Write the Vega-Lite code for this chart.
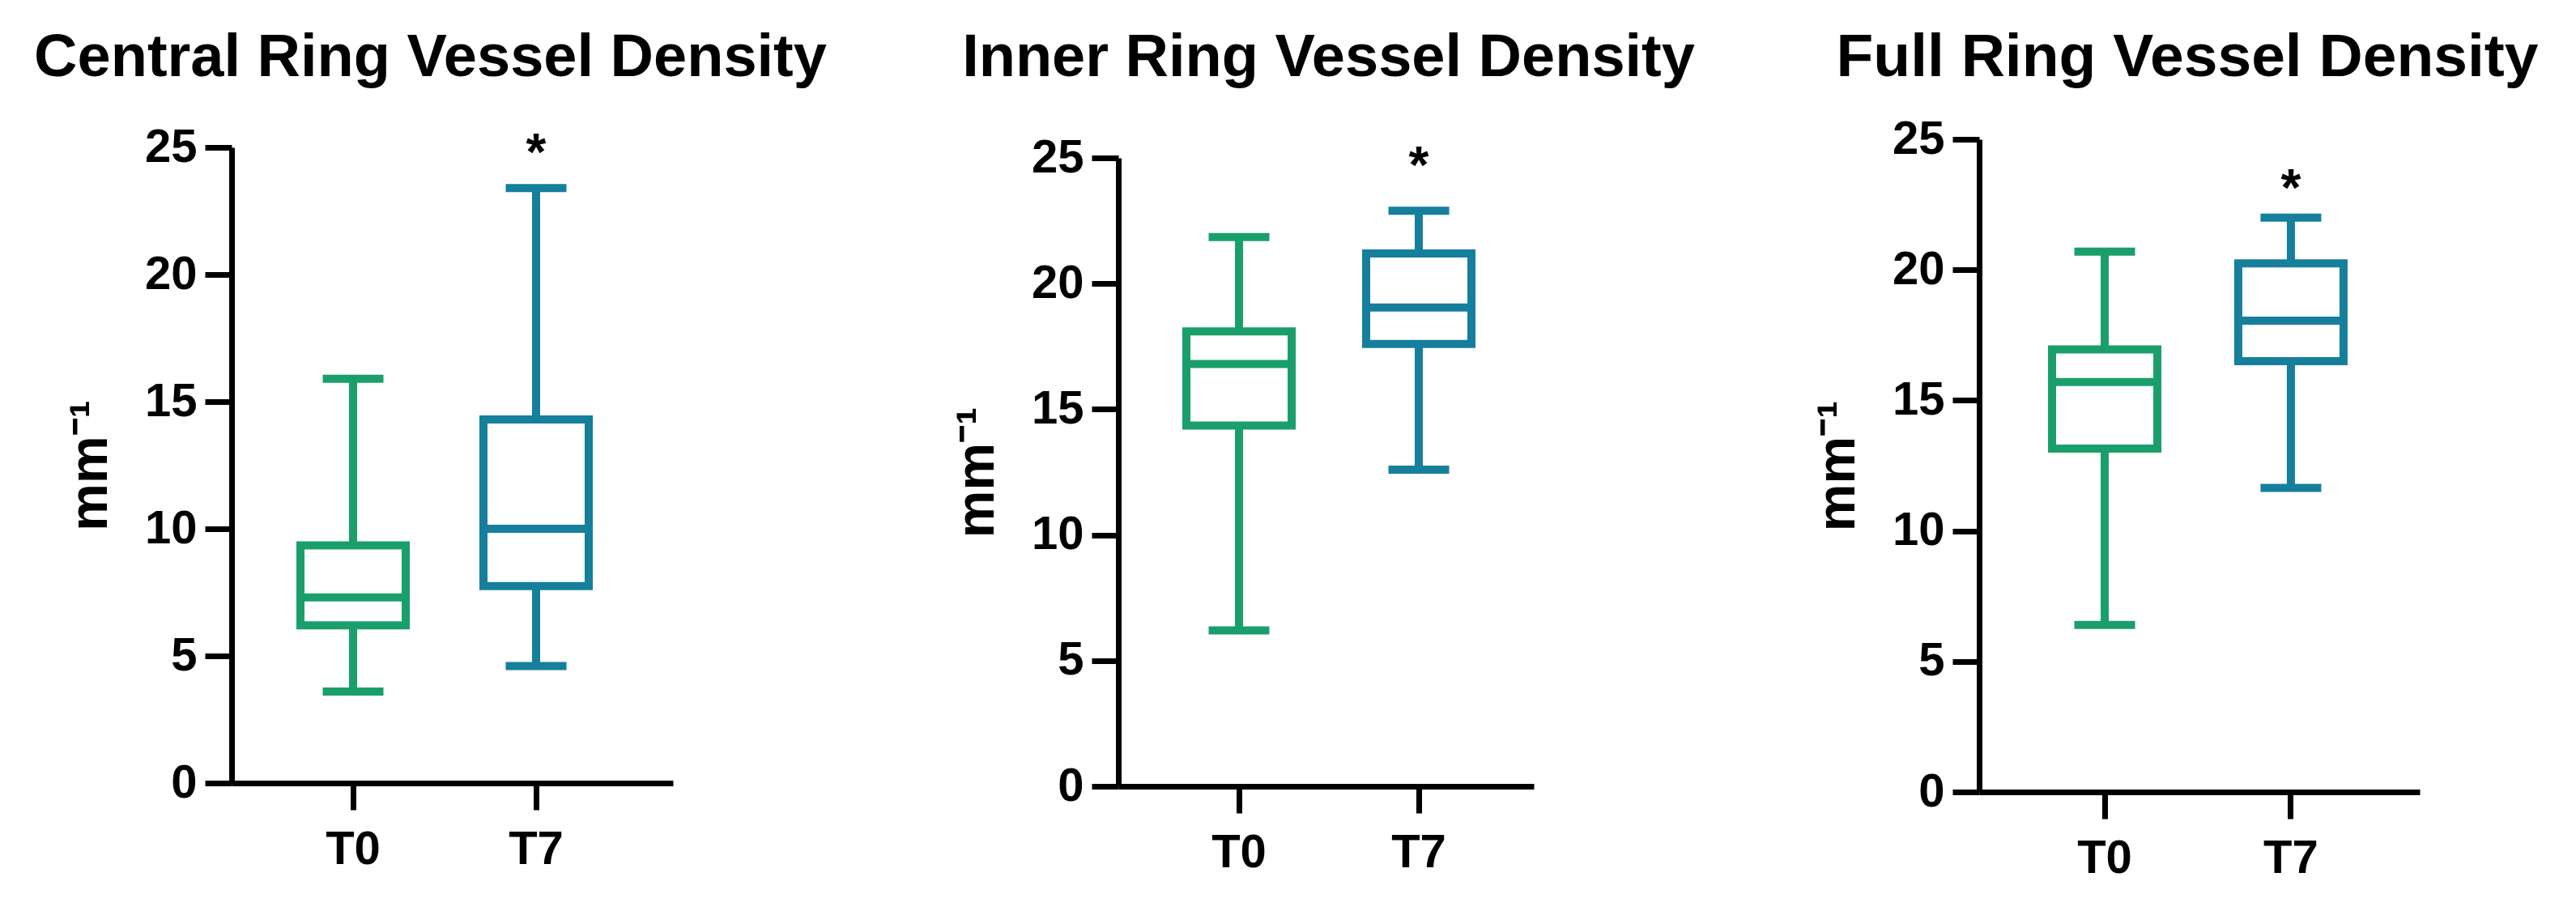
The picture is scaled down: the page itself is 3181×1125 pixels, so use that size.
{
  "$schema": "https://vega.github.io/schema/vega-lite/v6.json",
  "background": "white",
  "padding": {"left": 42, "top": 34, "right": 5, "bottom": 5},
  "bounds": "flush",
  "spacing": 550,
  "config": {
    "view": {"stroke": null},
    "font": "Liberation Sans",
    "axis": {
      "domainColor": "black", "domainWidth": 7,
      "tickColor": "black", "tickWidth": 7, "tickSize": 33,
      "labelColor": "black", "labelFont": "Liberation Sans", "labelFontWeight": "bold", "labelFontSize": 58,
      "titleColor": "black", "titleFont": "Liberation Sans", "titleFontWeight": "bold", "titleFontSize": 66,
      "grid": false
    },
    "title": {"font": "Liberation Sans", "fontWeight": "bold", "fontSize": 74, "color": "black", "baseline": "alphabetic", "anchor": "middle", "frame": "group"}
  },
  "datasets": {
    "boxes": [
      {"panel": "Central", "group": "T0", "lower": 3.6, "q1": 6.2, "median": 7.3, "q3": 9.35, "upper": 15.9},
      {"panel": "Central", "group": "T7", "lower": 4.6, "q1": 7.75, "median": 10.0, "q3": 14.3, "upper": 23.4},
      {"panel": "Inner", "group": "T0", "lower": 6.2, "q1": 14.35, "median": 16.8, "q3": 18.1, "upper": 21.85},
      {"panel": "Inner", "group": "T7", "lower": 12.6, "q1": 17.6, "median": 19.05, "q3": 21.2, "upper": 22.9},
      {"panel": "Full", "group": "T0", "lower": 6.4, "q1": 13.15, "median": 15.7, "q3": 16.95, "upper": 20.7},
      {"panel": "Full", "group": "T7", "lower": 11.65, "q1": 16.5, "median": 18.05, "q3": 20.25, "upper": 22.0}
    ],
    "stars": [
      {"panel": "Central", "group": "T7", "y": 24.1, "label": "*"},
      {"panel": "Inner", "group": "T7", "y": 24.0, "label": "*"},
      {"panel": "Full", "group": "T7", "y": 22.45, "label": "*"}
    ]
  },
  "hconcat": [
    {
      "width": 545, "height": 795,
      "title": {"text": "Central Ring Vessel Density", "offset": 43, "dx": -27},
      "encoding": {
        "x": {"field": "group", "type": "nominal", "scale": {"type": "band", "domain": ["T0", "T7"], "paddingInner": 0, "paddingOuter": 0.2058, "align": 0.398}, "axis": {"title": null, "labelAngle": 0, "labelPadding": 20}},
        "color": {"field": "group", "type": "nominal", "scale": {"domain": ["T0", "T7"], "range": ["#1A9F6C", "#157F9C"]}, "legend": null}
      },
      "layer": [
        {"data": {"name": "boxes"}, "transform": [{"filter": "datum.panel === 'Central'"}],
         "mark": {"type": "rule", "strokeWidth": 10},
         "encoding": {"y": {"field": "lower", "type": "quantitative", "scale": {"domain": [0, 25], "nice": false, "range": [795, 10]}, "axis": {"values": [0, 5, 10, 15, 20, 25], "title": "mm⁻¹", "titlePadding": 33, "labelPadding": 10}}, "y2": {"field": "q1"}}},
        {"data": {"name": "boxes"}, "transform": [{"filter": "datum.panel === 'Central'"}],
         "mark": {"type": "rule", "strokeWidth": 10},
         "encoding": {"y": {"field": "q3", "type": "quantitative"}, "y2": {"field": "upper"}}},
        {"data": {"name": "boxes"}, "transform": [{"filter": "datum.panel === 'Central'"}],
         "mark": {"type": "bar", "size": 130, "fill": "white", "strokeWidth": 10},
         "encoding": {"y": {"field": "q1", "type": "quantitative"}, "y2": {"field": "q3"}, "stroke": {"field": "group", "type": "nominal", "scale": {"domain": ["T0", "T7"], "range": ["#1A9F6C", "#157F9C"]}, "legend": null}, "color": {"value": "white"}}},
        {"data": {"name": "boxes"}, "transform": [{"filter": "datum.panel === 'Central'"}],
         "mark": {"type": "tick", "size": 130, "thickness": 10, "opacity": 1},
         "encoding": {"y": {"field": "median", "type": "quantitative"}}},
        {"data": {"name": "boxes"}, "transform": [{"filter": "datum.panel === 'Central'"}],
         "mark": {"type": "tick", "size": 75, "thickness": 10, "opacity": 1},
         "encoding": {"y": {"field": "lower", "type": "quantitative"}}},
        {"data": {"name": "boxes"}, "transform": [{"filter": "datum.panel === 'Central'"}],
         "mark": {"type": "tick", "size": 75, "thickness": 10, "opacity": 1},
         "encoding": {"y": {"field": "upper", "type": "quantitative"}}},
        {"data": {"name": "stars"}, "transform": [{"filter": "datum.panel === 'Central'"}],
         "mark": {"type": "text", "fontSize": 64, "fontWeight": "bold", "font": "Liberation Sans", "baseline": "alphabetic", "align": "center"},
         "encoding": {"y": {"field": "y", "type": "quantitative"}, "text": {"field": "label"}, "color": {"value": "black"}}}
      ]
    },
    {
      "width": 513, "height": 799,
      "title": {"text": "Inner Ring Vessel Density", "offset": 56, "dx": 3},
      "encoding": {
        "x": {"field": "group", "type": "nominal", "scale": {"type": "band", "domain": ["T0", "T7"], "paddingInner": 0, "paddingOuter": 0.1554, "align": 0.551}, "axis": {"title": null, "labelAngle": 0, "labelPadding": 20}},
        "color": {"field": "group", "type": "nominal", "scale": {"domain": ["T0", "T7"], "range": ["#1A9F6C", "#157F9C"]}, "legend": null}
      },
      "layer": [
        {"data": {"name": "boxes"}, "transform": [{"filter": "datum.panel === 'Inner'"}],
         "mark": {"type": "rule", "strokeWidth": 10},
         "encoding": {"y": {"field": "lower", "type": "quantitative", "scale": {"domain": [0, 25], "nice": false, "range": [799, 23]}, "axis": {"values": [0, 5, 10, 15, 20, 25], "title": "mm⁻¹", "titlePadding": 33, "labelPadding": 10}}, "y2": {"field": "q1"}}},
        {"data": {"name": "boxes"}, "transform": [{"filter": "datum.panel === 'Inner'"}],
         "mark": {"type": "rule", "strokeWidth": 10},
         "encoding": {"y": {"field": "q3", "type": "quantitative"}, "y2": {"field": "upper"}}},
        {"data": {"name": "boxes"}, "transform": [{"filter": "datum.panel === 'Inner'"}],
         "mark": {"type": "bar", "size": 130, "fill": "white", "strokeWidth": 10},
         "encoding": {"y": {"field": "q1", "type": "quantitative"}, "y2": {"field": "q3"}, "stroke": {"field": "group", "type": "nominal", "scale": {"domain": ["T0", "T7"], "range": ["#1A9F6C", "#157F9C"]}, "legend": null}, "color": {"value": "white"}}},
        {"data": {"name": "boxes"}, "transform": [{"filter": "datum.panel === 'Inner'"}],
         "mark": {"type": "tick", "size": 130, "thickness": 10, "opacity": 1},
         "encoding": {"y": {"field": "median", "type": "quantitative"}}},
        {"data": {"name": "boxes"}, "transform": [{"filter": "datum.panel === 'Inner'"}],
         "mark": {"type": "tick", "size": 75, "thickness": 10, "opacity": 1},
         "encoding": {"y": {"field": "lower", "type": "quantitative"}}},
        {"data": {"name": "boxes"}, "transform": [{"filter": "datum.panel === 'Inner'"}],
         "mark": {"type": "tick", "size": 75, "thickness": 10, "opacity": 1},
         "encoding": {"y": {"field": "upper", "type": "quantitative"}}},
        {"data": {"name": "stars"}, "transform": [{"filter": "datum.panel === 'Inner'"}],
         "mark": {"type": "text", "fontSize": 64, "fontWeight": "bold", "font": "Liberation Sans", "baseline": "alphabetic", "align": "center"},
         "encoding": {"y": {"field": "y", "type": "quantitative"}, "text": {"field": "label"}, "color": {"value": "black"}}}
      ]
    },
    {
      "width": 544, "height": 806,
      "title": {"text": "Full Ring Vessel Density", "offset": 33, "dx": -15, "fontSize": 75},
      "encoding": {
        "x": {"field": "group", "type": "nominal", "scale": {"type": "band", "domain": ["T0", "T7"], "paddingInner": 0, "paddingOuter": 0.183, "align": 0.476}, "axis": {"title": null, "labelAngle": 0, "labelPadding": 20}},
        "color": {"field": "group", "type": "nominal", "scale": {"domain": ["T0", "T7"], "range": ["#1A9F6C", "#157F9C"]}, "legend": null}
      },
      "layer": [
        {"data": {"name": "boxes"}, "transform": [{"filter": "datum.panel === 'Full'"}],
         "mark": {"type": "rule", "strokeWidth": 10},
         "encoding": {"y": {"field": "lower", "type": "quantitative", "scale": {"domain": [0, 25], "nice": false, "range": [806, 0]}, "axis": {"values": [0, 5, 10, 15, 20, 25], "title": "mm⁻¹", "titlePadding": 33, "labelPadding": 10}}, "y2": {"field": "q1"}}},
        {"data": {"name": "boxes"}, "transform": [{"filter": "datum.panel === 'Full'"}],
         "mark": {"type": "rule", "strokeWidth": 10},
         "encoding": {"y": {"field": "q3", "type": "quantitative"}, "y2": {"field": "upper"}}},
        {"data": {"name": "boxes"}, "transform": [{"filter": "datum.panel === 'Full'"}],
         "mark": {"type": "bar", "size": 130, "fill": "white", "strokeWidth": 10},
         "encoding": {"y": {"field": "q1", "type": "quantitative"}, "y2": {"field": "q3"}, "stroke": {"field": "group", "type": "nominal", "scale": {"domain": ["T0", "T7"], "range": ["#1A9F6C", "#157F9C"]}, "legend": null}, "color": {"value": "white"}}},
        {"data": {"name": "boxes"}, "transform": [{"filter": "datum.panel === 'Full'"}],
         "mark": {"type": "tick", "size": 130, "thickness": 10, "opacity": 1},
         "encoding": {"y": {"field": "median", "type": "quantitative"}}},
        {"data": {"name": "boxes"}, "transform": [{"filter": "datum.panel === 'Full'"}],
         "mark": {"type": "tick", "size": 75, "thickness": 10, "opacity": 1},
         "encoding": {"y": {"field": "lower", "type": "quantitative"}}},
        {"data": {"name": "boxes"}, "transform": [{"filter": "datum.panel === 'Full'"}],
         "mark": {"type": "tick", "size": 75, "thickness": 10, "opacity": 1},
         "encoding": {"y": {"field": "upper", "type": "quantitative"}}},
        {"data": {"name": "stars"}, "transform": [{"filter": "datum.panel === 'Full'"}],
         "mark": {"type": "text", "fontSize": 64, "fontWeight": "bold", "font": "Liberation Sans", "baseline": "alphabetic", "align": "center"},
         "encoding": {"y": {"field": "y", "type": "quantitative"}, "text": {"field": "label"}, "color": {"value": "black"}}}
      ]
    }
  ]
}
